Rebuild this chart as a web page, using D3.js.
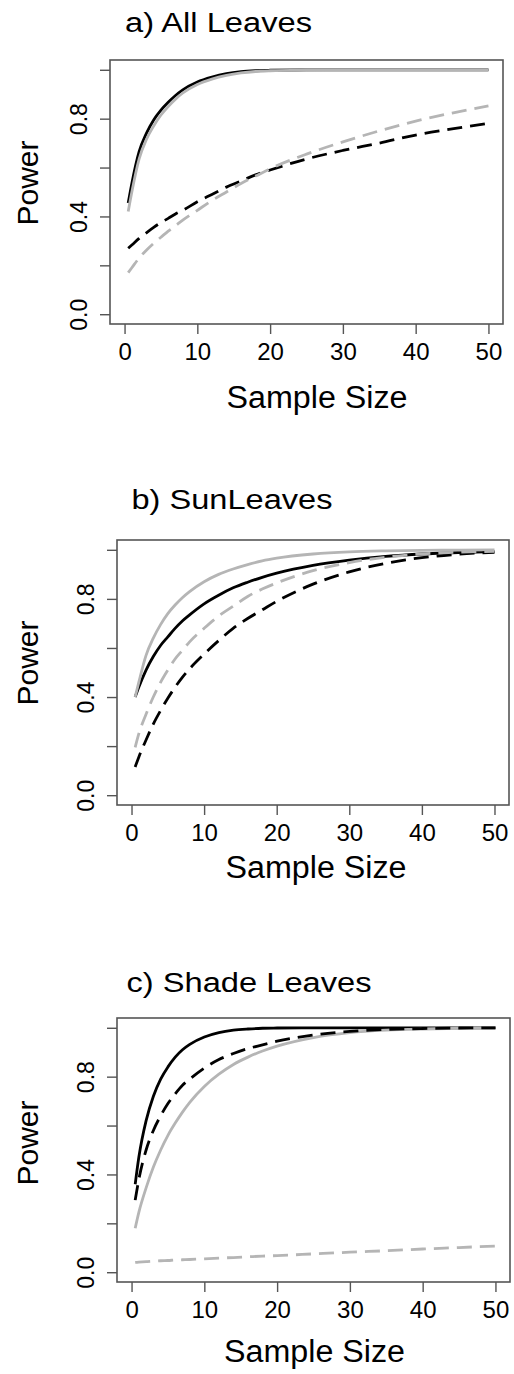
<!DOCTYPE html>
<html>
<head>
<meta charset="utf-8">
<script src="https://cdn.jsdelivr.net/npm/d3@7"></script>
<style>
  body { margin: 0; background: #fff; }
  svg text { font-family: "Liberation Sans", Arial, Helvetica, sans-serif; fill: #000; }
</style>
</head>
<body>
<div id="chart-container"></div>
<script>
// data
const sampleSize = [0.5, 1, 2, 3, 4, 5, 6, 7, 8, 10, 12, 14, 16, 18, 20, 25, 30, 35, 40, 45, 50]
const xTicks = [0, 10, 20, 30, 40, 50]
const yTicks = [0, 0.2, 0.4, 0.6, 0.8, 1.0]
const yTickLabels = ['0.0', '', '0.4', '', '0.8', '']
const panelTitles = ['a) All Leaves', 'b) SunLeaves', 'c) Shade Leaves']

// a) all leaves
const allBlackSolid = [0.455, 0.535, 0.665, 0.74, 0.795, 0.835, 0.867, 0.895, 0.918, 0.95, 0.97, 0.984, 0.992, 0.996, 0.998, 1, 1, 1, 1, 1, 1]
const allGraySolid = [0.42, 0.5, 0.635, 0.715, 0.77, 0.815, 0.85, 0.88, 0.905, 0.94, 0.962, 0.977, 0.987, 0.993, 0.996, 0.999, 1, 1, 1, 1, 1]
const allBlackDashed = [0.27, 0.283, 0.31, 0.333, 0.355, 0.375, 0.392, 0.41, 0.425, 0.46, 0.49, 0.52, 0.545, 0.57, 0.59, 0.635, 0.67, 0.70, 0.733, 0.758, 0.781]
const allGrayDashed = [0.17, 0.19, 0.23, 0.262, 0.29, 0.315, 0.34, 0.362, 0.385, 0.425, 0.465, 0.5, 0.535, 0.565, 0.595, 0.655, 0.705, 0.75, 0.79, 0.823, 0.852]

// b) sun leaves
const sunBlackSolid = [0.40, 0.44, 0.51, 0.565, 0.61, 0.645, 0.68, 0.71, 0.735, 0.78, 0.815, 0.845, 0.868, 0.888, 0.905, 0.937, 0.958, 0.973, 0.983, 0.989, 0.993]
const sunGraySolid = [0.40, 0.46, 0.57, 0.64, 0.695, 0.74, 0.775, 0.805, 0.83, 0.87, 0.90, 0.922, 0.94, 0.955, 0.966, 0.983, 0.992, 0.996, 0.998, 0.999, 1.0]
const sunBlackDashed = [0.115, 0.155, 0.225, 0.29, 0.345, 0.395, 0.44, 0.48, 0.515, 0.575, 0.63, 0.68, 0.72, 0.755, 0.79, 0.86, 0.91, 0.945, 0.968, 0.982, 0.99]
const sunGrayDashed = [0.195, 0.25, 0.33, 0.40, 0.46, 0.51, 0.555, 0.59, 0.625, 0.68, 0.73, 0.77, 0.81, 0.84, 0.865, 0.915, 0.948, 0.97, 0.983, 0.99, 0.994]

// c) shade leaves
const shadeBlackSolid = [0.36, 0.47, 0.62, 0.72, 0.79, 0.84, 0.88, 0.91, 0.932, 0.962, 0.98, 0.99, 0.995, 0.998, 0.999, 1, 1, 1, 1, 1, 1]
const shadeGraySolid = [0.18, 0.245, 0.345, 0.43, 0.5, 0.56, 0.61, 0.655, 0.695, 0.76, 0.81, 0.85, 0.88, 0.905, 0.925, 0.96, 0.98, 0.99, 0.995, 0.998, 1.0]
const shadeBlackDashed = [0.295, 0.38, 0.5, 0.58, 0.64, 0.69, 0.73, 0.765, 0.79, 0.835, 0.87, 0.895, 0.915, 0.93, 0.945, 0.97, 0.985, 0.993, 0.997, 0.999, 1.0]
const shadeGrayDashed = [0.04, 0.041, 0.043, 0.045, 0.047, 0.048, 0.05, 0.051, 0.052, 0.055, 0.058, 0.06, 0.063, 0.066, 0.068, 0.075, 0.082, 0.088, 0.095, 0.101, 0.107]

const panelSeries = [
  [allBlackSolid, allGraySolid, allBlackDashed, allGrayDashed],
  [sunBlackSolid, sunGraySolid, sunBlackDashed, sunGrayDashed],
  [shadeBlackSolid, shadeGraySolid, shadeBlackDashed, shadeGrayDashed]
]

// constants
const width = 514
const height = 1374
const black = '#000'
const gray = '#b5b5b5'
const boxColor = '#555'
const lineStyles = [
  {color: black, dash: null},
  {color: gray, dash: null},
  {color: black, dash: '15,8'},
  {color: gray, dash: '15,8'}
]

// where each panel sits on the page
const layouts = [
  {left: 110, right: 503, top: 60, bottom: 324, titleX: 125, titleY: 32, titleLen: 187, xLabX: 317, xLabY: 408, yLabY: 183},
  {left: 117, right: 509, top: 540, bottom: 805, titleX: 131.5, titleY: 509, titleLen: 201, xLabX: 316, xLabY: 878, yLabY: 663},
  {left: 117, right: 510, top: 1018, bottom: 1282, titleX: 126.5, titleY: 991.5, titleLen: 245, xLabX: 314.5, xLabY: 1362, yLabY: 1143}
]

const svg = d3.select('#chart-container')
  .append('svg')
  .attr('width', width)
  .attr('height', height)

svg.append('rect')
  .attr('width', width)
  .attr('height', height)
  .attr('fill', '#fff')

function drawPanel (series, title, lay) {
  const plotWidth = lay.right - lay.left
  const plotHeight = lay.bottom - lay.top
  const g = svg.append('g')
    .attr('transform', `translate(${lay.left}, ${lay.top})`)

  // R style 4% padding
  const xScale = d3.scaleLinear().domain([-2, 52]).range([0, plotWidth])
  const yScale = d3.scaleLinear().domain([-0.04, 1.04]).range([plotHeight, 0])

  const line = d3.line()
    .x((d, i) => xScale(sampleSize[i]))
    .y(d => yScale(d))
    .curve(d3.curveMonotoneX)

  series.forEach((values, k) => {
    g.append('path')
      .datum(values)
      .attr('d', line)
      .attr('fill', 'none')
      .attr('stroke', lineStyles[k].color)
      .attr('stroke-width', 2.8)
      .attr('stroke-dasharray', lineStyles[k].dash)
  })

  // box
  g.append('rect')
    .attr('width', plotWidth)
    .attr('height', plotHeight)
    .attr('fill', 'none')
    .attr('stroke', boxColor)
    .attr('stroke-width', 1.6)

  // axes
  const xAxis = d3.axisBottom(xScale)
    .tickValues(xTicks)
    .tickSize(10)
    .tickSizeOuter(0)
  const xg = g.append('g')
    .attr('transform', `translate(0, ${plotHeight})`)
    .call(xAxis)
  xg.select('.domain').remove()
  xg.selectAll('line').attr('stroke', boxColor).attr('stroke-width', 1.4)
  xg.selectAll('text')
    .attr('y', 36)
    .attr('dy', 0)
    .style('font-size', '24px')
    .attr('fill', '#000')

  const yAxis = d3.axisLeft(yScale)
    .tickValues(yTicks)
    .tickFormat((d, i) => yTickLabels[i])
    .tickSize(10)
    .tickSizeOuter(0)
  const yg = g.append('g').call(yAxis)
  yg.select('.domain').remove()
  yg.selectAll('line').attr('stroke', boxColor).attr('stroke-width', 1.4)
  yg.selectAll('text')
    .attr('transform', 'rotate(-90)')
    .attr('x', 0)
    .attr('y', -23.5)
    .attr('dy', 0)
    .attr('text-anchor', 'middle')
    .style('font-size', '23px')
    .attr('fill', '#000')

  // labels
  svg.append('text')
    .attr('x', lay.titleX)
    .attr('y', lay.titleY)
    .attr('textLength', lay.titleLen)
    .attr('lengthAdjust', 'spacingAndGlyphs')
    .style('font-size', '27px')
    .text(title)

  svg.append('text')
    .attr('x', lay.xLabX)
    .attr('y', lay.xLabY)
    .attr('text-anchor', 'middle')
    .attr('textLength', 181)
    .attr('lengthAdjust', 'spacingAndGlyphs')
    .style('font-size', '31px')
    .text('Sample Size')

  svg.append('text')
    .attr('transform', `translate(38, ${lay.yLabY}) rotate(-90)`)
    .attr('text-anchor', 'middle')
    .style('font-size', '30px')
    .text('Power')
}

panelSeries.forEach((series, i) => drawPanel(series, panelTitles[i], layouts[i]))
</script>
</body>
</html>
